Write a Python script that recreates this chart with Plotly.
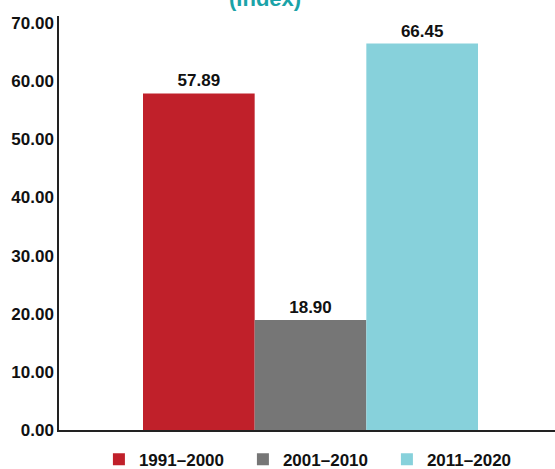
import plotly.graph_objects as go

periods = ["1991–2000", "2001–2010", "2011–2020"]
values = [57.89, 18.90, 66.45]
colors = ["#C0202A", "#767676", "#87D1DB"]
y_ticks = [0, 10, 20, 30, 40, 50, 60, 70]

fig = go.Figure()
for p, v, c in zip(periods, values, colors):
    fig.add_trace(go.Bar(
        x=[""], y=[v], name=p, marker_color=c, marker_line_width=0,
        text=[f"{v:.2f}"], textposition="outside", cliponaxis=False,
        textfont=dict(size=17, color="#111111", weight="bold"),
    ))

fig.add_annotation(
    text="(Index)", xref="paper", yref="paper", x=0.41, y=1,
    xanchor="center", yanchor="bottom", yshift=3, showarrow=False,
    font=dict(size=22, color="#1AA3A8", weight="bold"),
)

# figure is a few px wider than the window, so the axis runs off the right edge
fig.update_layout(
    width=562, height=469,
    margin=dict(l=59, r=0, t=16, b=39, autoexpand=False),
    barmode="group", bargap=0.334, bargroupgap=0,
    plot_bgcolor="white", paper_bgcolor="white",
    font=dict(family="Liberation Sans, Arial", color="#111111"),
    legend=dict(
        orientation="h", xref="container", yref="paper",
        x=0.176, xanchor="left", y=-0.072, yanchor="middle",
        entrywidth=99, font=dict(size=17, weight="bold"),
        itemsizing="constant", tracegroupgap=0,
    ),
)
fig.update_xaxes(showline=True, linecolor="#222222", linewidth=1.5,
                 showticklabels=False, showgrid=False)
fig.update_yaxes(range=[0, 71.2], tickvals=y_ticks, tickformat=".2f",
                 showline=True, linecolor="#222222", linewidth=1.5,
                 showgrid=False, zeroline=False, ticks="", ticklen=0,
                 automargin=False, tickfont=dict(size=17, weight="bold"))

fig.write_html("out.html", config={"displayModeBar": False},
               post_script="document.body.style.margin='0';"
                           "document.body.style.overflow='hidden';")
